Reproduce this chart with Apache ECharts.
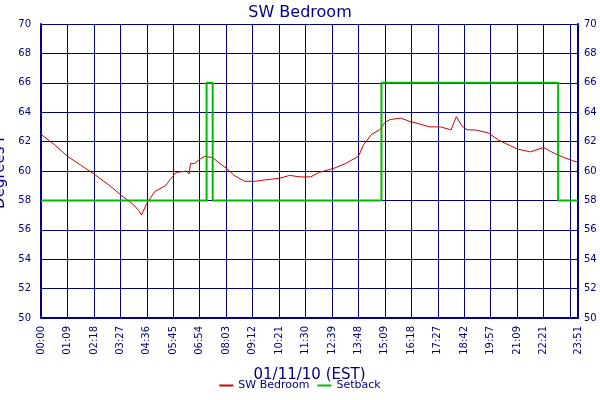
<!DOCTYPE html>
<html><head><meta charset="utf-8">
<script src="https://cdn.jsdelivr.net/npm/echarts@6/dist/echarts.min.js"></script>
<style>body{margin:0;background:#fff}#plot{width:600px;height:400px}</style>
</head><body><div id="plot"></div>
<script>
// x is sample index (10 samples per labelled tick)
var tickLabels = ['00:00','01:09','02:18','03:27','04:36','05:45','06:54','08:03','09:12','10:21','11:30',
  '12:39','13:48','15:09','16:18','17:27','18:42','19:57','21:09','22:21','23:30'];
var lastLabel = '23:51';
var lastIndex = 203;
var tempIdx = [0,5,10,15,20,26,30,35,37,38,40,43,47,51,55,56,56.5,58,60,62,65,67,70,73,77,81,85,90,94,98,102,105,111,115,118,120,122,125,128,130,132,136,139,143,147,151,155,157,159,161,164,169,173,180,185,190,192,194,198,201,203];
var tempVal = [62.5,61.8,61.0,60.4,59.8,59.0,58.4,57.7,57.3,57.0,57.8,58.6,59.0,59.9,60.0,59.8,60.5,60.5,60.8,61.0,60.9,60.6,60.2,59.7,59.3,59.3,59.4,59.5,59.7,59.6,59.6,59.9,60.2,60.5,60.8,61.0,61.8,62.5,62.8,63.3,63.5,63.6,63.4,63.2,63.0,63.0,62.8,63.7,63.1,62.8,62.8,62.6,62.1,61.5,61.3,61.6,61.4,61.2,60.9,60.7,60.6];
var setIdx = [0,62.6,64.9,128.7,195.5,203];
var setVal = [58,66,58,66,58,58];

function pairs(xs, ys){ return xs.map(function(x,i){ return [x, ys[i]]; }); }
var navy = '#000080';
var plot = echarts.init(document.getElementById('plot'));
var yAx = function(pos){ return {
  type:'value', position:pos, min:50, max:70, interval:2,
  axisLine:{show:true, lineStyle:{color:navy, width:2}}, axisTick:{show:false},
  axisLabel:{color:navy, fontSize:10, fontFamily:'DejaVu Sans', margin:pos==='left'?10:6},
  splitLine:{show:pos==='left', lineStyle:{color:navy, width:1}}
};};
plot.setOption({
  animation:false,
  title:{text:'SW Bedroom', left:'center', top:0, textStyle:{color:navy, fontSize:16, fontWeight:'normal', fontFamily:'DejaVu Sans'}},
  grid:{left:41, right:22, top:24, bottom:82, containLabel:false, outerBoundsMode:'none'},
  legend:{bottom:4, itemWidth:14, itemHeight:2, icon:'rect', textStyle:{color:navy, fontSize:11, fontFamily:'DejaVu Sans'},
    data:['SW Bedroom','Setback']},
  xAxis:{type:'value', min:0, max:lastIndex, interval:10,
    name:'01/11/10 (EST)', nameLocation:'middle', nameGap:50, nameTextStyle:{color:navy, fontSize:15, fontFamily:'DejaVu Sans'},
    axisLine:{show:true, onZero:false, lineStyle:{color:navy, width:2}}, axisTick:{show:false},
    axisLabel:{rotate:90, color:navy, fontSize:10, fontFamily:'DejaVu Sans', showMaxLabel:true, hideOverlap:false,
      formatter:function(v){ return v===lastIndex ? lastLabel : (tickLabels[Math.round(v/10)]||''); }},
    splitLine:{show:true, lineStyle:{color:navy, width:1}}},
  yAxis:[Object.assign(yAx('left'), {name:'Degrees F', nameLocation:'middle', nameGap:26, nameTextStyle:{color:navy, fontSize:15, fontFamily:'DejaVu Sans'}}), yAx('right')],
  series:[
    {name:'SW Bedroom', type:'line', data:pairs(tempIdx,tempVal), showSymbol:false, lineStyle:{color:'#cc0000', width:1}, itemStyle:{color:'#cc0000'}},
    {name:'Setback', type:'line', step:'end', data:pairs(setIdx,setVal), showSymbol:false, lineStyle:{color:'#00bb00', width:2}, itemStyle:{color:'#00bb00'}}
  ]
});
</script></body></html>
